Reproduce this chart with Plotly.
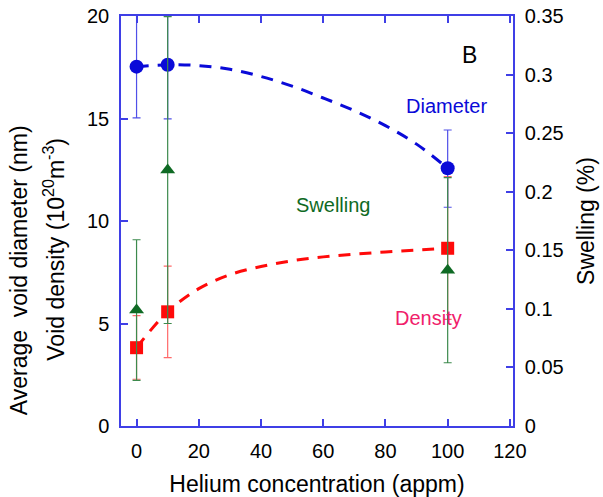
import plotly.graph_objects as go

# ---- data ----
he_conc = [0, 10, 100]

diameter = [17.53, 17.62, 12.57]
diameter_err_plus = [2.5, 2.64, 1.87]
diameter_err_minus = [2.5, 2.64, 1.9]

density = [3.82, 5.57, 8.67]
density_err_plus = [1.56, 2.23, 3.5]
density_err_minus = [1.54, 2.23, 3.47]

swelling = [0.099, 0.2185, 0.133]
swelling_err_plus = [0.06, 0.131, 0.079]
swelling_err_minus = [0.06, 0.131, 0.079]

# dashed guide curves
fit_x = [0, 10, 20, 30, 40, 50, 60, 70, 80, 90, 100]
diameter_fit = [17.53, 17.62, 17.58, 17.4, 17.05, 16.58, 16.0, 15.38, 14.65, 13.75, 12.57]
density_fit = [3.82, 5.57, 6.7, 7.38, 7.78, 8.06, 8.25, 8.38, 8.49, 8.58, 8.67]

x_ticks = [0, 20, 40, 60, 80, 100, 120]
y_ticks = [0, 5, 10, 15, 20]
y2_ticks = [0, 0.05, 0.1, 0.15, 0.2, 0.25, 0.3, 0.35]
y2_labels = ["0", "0.05", "0.1", "0.15", "0.2", "0.25", "0.3", "0.35"]

FONT = "Arial, Liberation Sans, sans-serif"
AX = "#3f3fe6"
BLUE = "#0a0ad8"
RED = "#ff0a0a"
GREEN = "#0f6a24"

fig = go.Figure()

# dashed curves
fig.add_trace(go.Scatter(x=fit_x, y=diameter_fit, mode="lines", line=dict(color=BLUE, width=3, dash="12px,9px", shape="spline"),
                         hoverinfo="skip", showlegend=False))
fig.add_trace(go.Scatter(x=fit_x, y=density_fit, mode="lines", line=dict(color=RED, width=3, dash="12px,9px", shape="spline"),
                         hoverinfo="skip", showlegend=False))

# swelling (right axis)
fig.add_trace(go.Scatter(x=he_conc, y=swelling, yaxis="y2", mode="markers",
                         marker=dict(symbol="triangle-up", size=13, color=GREEN),
                         error_y=dict(type="data", array=swelling_err_plus, arrayminus=swelling_err_minus,
                                      color="#3d8a4d", thickness=1.2, width=4),
                         showlegend=False))
# density
fig.add_trace(go.Scatter(x=he_conc, y=density, mode="markers",
                         marker=dict(symbol="square", size=13, color=RED),
                         error_y=dict(type="data", array=density_err_plus, arrayminus=density_err_minus,
                                      color="#ff6a6a", thickness=1.2, width=4),
                         showlegend=False))
# diameter
fig.add_trace(go.Scatter(x=he_conc, y=diameter, mode="markers",
                         marker=dict(symbol="circle", size=14, color=BLUE),
                         error_y=dict(type="data", array=diameter_err_plus, arrayminus=diameter_err_minus,
                                      color="#5050e8", thickness=1.2, width=4),
                         showlegend=False))

fig.update_layout(
    width=603, height=497,
    margin=dict(l=121, r=90, t=16, b=71, autoexpand=False),
    paper_bgcolor="white", plot_bgcolor="white",
    font=dict(family=FONT, size=20, color="black"),
    xaxis=dict(range=[-5, 121], tickvals=x_ticks, ticks="inside", ticklen=7, tickcolor=AX, tickwidth=1.5,
               showline=True, linecolor=AX, linewidth=1.5, mirror="ticks", showgrid=False, zeroline=False,
               automargin=False, ticklabelstandoff=6,
               title=dict(text="Helium concentration (appm)", font=dict(size=23), standoff=20)),
    yaxis=dict(range=[0, 20], tickvals=y_ticks, ticks="inside", ticklen=7, tickcolor=AX, tickwidth=1.5,
               showline=True, linecolor=AX, linewidth=1.5, showgrid=False, zeroline=False,
               automargin=False, ticklabelstandoff=6),
    yaxis2=dict(range=[0, 0.35], tickvals=y2_ticks, ticktext=y2_labels, overlaying="y", side="right",
                ticks="inside", ticklen=7, tickcolor=AX, tickwidth=1.5,
                showline=True, linecolor=AX, linewidth=1.5, showgrid=False, zeroline=False,
                automargin=False, ticklabelstandoff=6,
                title=dict(text="Swelling (%)", font=dict(size=23), standoff=15)),
    annotations=[
        dict(text="Average\u00a0 void diameter (nm)", xref="paper", yref="paper", x=0, y=0.38,
             xanchor="center", yanchor="middle",
             xshift=-102, textangle=-90, showarrow=False, font=dict(size=23)),
        dict(text="Void density (10<sup>20</sup>m<sup>-3</sup>)", xref="paper", yref="paper", x=0, y=0.43,
             xanchor="center", yanchor="middle",
             xshift=-67, textangle=-90, showarrow=False, font=dict(size=23)),
        dict(text="B", x=107, y=18.1, xref="x", yref="y", showarrow=False, font=dict(size=23, color="black")),
        dict(text="Diameter", x=99.5, y=15.6, xref="x", yref="y", showarrow=False, font=dict(size=20, color=BLUE)),
        dict(text="Swelling", x=63.2, y=10.78, xref="x", yref="y", showarrow=False, font=dict(size=20, color=GREEN)),
        dict(text="Density", x=93.7, y=5.27, xref="x", yref="y", showarrow=False, font=dict(size=20, color="#f0206a")),
    ],
)

fig.write_html("out.html")
